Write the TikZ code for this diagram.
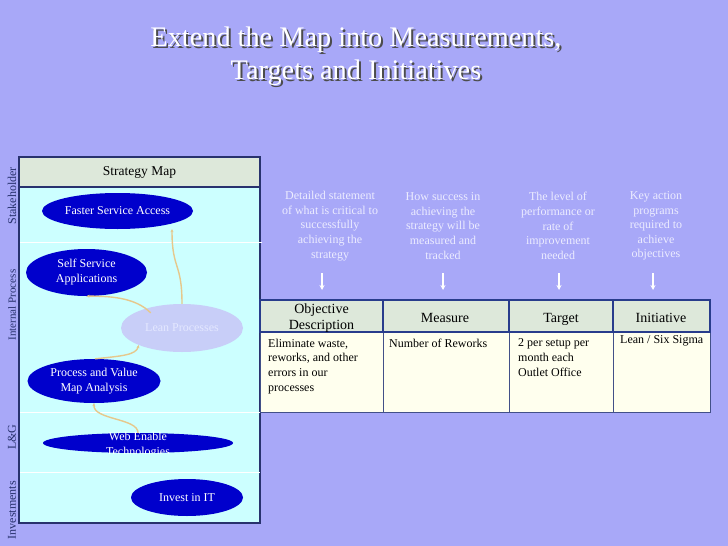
\documentclass[tikz,border=0pt]{standalone}
\usepackage{fontspec}
\setmainfont{Liberation Serif}
\usetikzlibrary{shapes.geometric,arrows.meta}
\definecolor{bgblue}{RGB}{168,168,248}
\definecolor{panelcyan}{RGB}{204,255,255}
\definecolor{headgreen}{RGB}{221,232,218}
\definecolor{ivory}{RGB}{255,255,238}
\definecolor{navy}{RGB}{40,50,110}
\definecolor{tblue}{RGB}{40,60,140}
\definecolor{ellblue}{RGB}{0,0,204}
\definecolor{leanfill}{RGB}{200,206,248}
\definecolor{leantext}{RGB}{228,232,255}
\definecolor{linktan}{RGB}{230,200,140}
\definecolor{desctext}{RGB}{236,236,255}
\newcommand{\shadowline}[1]{\leavevmode\rlap{\hspace{2pt}\raisebox{-2pt}{\textcolor{black!70}{#1}}}\textcolor{white}{#1}}
\tikzset{
  objell/.style={ellipse, fill=ellblue, text=white, inner sep=0pt, align=center,
     font=\fontsize{12}{15}\selectfont},
  link/.style={draw=linktan, line width=1.4pt, -{Stealth[length=3pt,width=3pt]}},
  sidelabel/.style={rotate=90, font=\fontsize{12}{14}\selectfont, text=navy},
  desc/.style={align=center, text=desctext, font=\fontsize{12}{14.6}\selectfont},
  downarr/.style={draw=white, line width=1.3pt, -{Stealth[length=5pt,width=5pt]}},
  headcell/.style={draw=tblue, line width=1.6pt, fill=headgreen},
  bodycell/.style={draw=tblue!70!gray, line width=0.8pt, fill=ivory},
  headtext/.style={align=center, font=\fontsize{14}{16}\selectfont},
  bodytext/.style={align=left, anchor=north west, inner sep=0pt, font=\fontsize{12}{14.8}\selectfont},
}
\begin{document}
\begin{tikzpicture}[x=1pt,y=-1pt]
\useasboundingbox (0,0) rectangle (728,546);
\fill[bgblue] (0,0) rectangle (728,546);
% title
\node (title) at (356,57) [align=center, font=\fontsize{28.3}{33}\selectfont] {\shadowline{Extend the Map into Measurements,}\\\shadowline{Targets and Initiatives}};
% left panel
\filldraw[fill=panelcyan, draw=navy, line width=1.5pt] (19,157) rectangle (260,523);
\filldraw[fill=headgreen, draw=navy, line width=1.5pt] (19,157) rectangle (260,187);
\node (smhead) at (139.5,172) [font=\fontsize{13.5}{16}\selectfont] {Strategy Map};
\draw[white, line width=1pt] (20,242) -- (262,242);
\draw[white, line width=1pt] (20,412) -- (260,412);
\draw[white, line width=1pt] (20,472) -- (260,472);
% side labels
\node[sidelabel] (lstake) at (12,196) {Stakeholder};
\node[sidelabel, font=\fontsize{11}{14}\selectfont] (lint) at (12,305) {Internal Process};
\node[sidelabel] (llg) at (12,437) {L\&G};
\node[sidelabel] (linv) at (12,510) {Investments};
% ellipses
\node[objell, minimum width=151pt, minimum height=36pt] (fsa) at (117.5,211) {Faster Service Access};
\node[objell, minimum width=121pt, minimum height=47pt] (ssa) at (86.5,272.5) {Self Service\\Applications};
\node[ellipse, fill=leanfill, text=leantext, inner sep=0pt, minimum width=122pt, minimum height=48pt,
      font=\fontsize{12}{15}\selectfont] (lean) at (182,328) {Lean Processes};
\node[objell, minimum width=133pt, minimum height=44pt] (pva) at (94,381) {Process and Value\\Map Analysis};
\node[objell, minimum width=190pt, minimum height=20pt] (web) at (138,443) {};
\begin{scope}
\clip (0,0) rectangle (728,453.5);
\node[align=center, text=white, font=\fontsize{12}{14.5}\selectfont] (webtext) at (138,445) {Web Enable\\Technologies};
\end{scope}
\node[objell, minimum width=112pt, minimum height=37pt] (iit) at (187,497.5) {Invest in IT};
% links
\draw[link] (lean.north -| 182,0) .. controls (182,262) and (172,270) .. (fsa.south -| 172,0);
\draw[link] (lean.north west) ++(12,2) .. controls (136,298) and (112,296) .. (ssa.south);
\draw[link] (pva.north) ++(1,0) .. controls (122,356) and (136,355) .. (lean.south west);
\draw[link] (web.north) .. controls (138,418) and (93,420) .. (pva.south);
% descriptions
\node[desc] (d1) at (330,226) {Detailed statement\\of what is critical to\\successfully\\achieving the\\strategy};
\node[desc] (d2) at (443,226) {How success in\\achieving the\\strategy will be\\measured and\\tracked};
\node[desc] (d3) at (558,226) {The level of\\performance or\\rate of\\improvement\\needed};
\node[desc] (d4) at (656,226) {Key action\\programs\\required to\\achieve\\objectives};
\coordinate (a1s) at (322,273); \coordinate (a1e) at (322,290);
\coordinate (a2s) at (443,273); \coordinate (a2e) at (443,290);
\coordinate (a3s) at (559,273); \coordinate (a3e) at (559,290);
\coordinate (a4s) at (653,273); \coordinate (a4e) at (653,290);
\draw[downarr] (a1s) -- (a1e);
\draw[downarr] (a2s) -- (a2e);
\draw[downarr] (a3s) -- (a3e);
\draw[downarr] (a4s) -- (a4e);
% table body
\draw[bodycell] (260,332) rectangle (383,412);
\draw[bodycell] (383,332) rectangle (509,412);
\draw[bodycell] (509,332) rectangle (613,412);
\draw[bodycell] (613,332) rectangle (710,412);
% table header
\draw[headcell] (260,300) rectangle (383,332);
\draw[headcell] (383,300) rectangle (509,332);
\draw[headcell] (509,300) rectangle (613,332);
\draw[headcell] (613,300) rectangle (710,332);
\node[headtext] (h1) at (321.5,318) {Objective\\Description};
\node[headtext, anchor=base] (h2) at (445,322) {Measure};
\node[headtext, anchor=base] (h3) at (561,322) {Target};
\node[headtext, anchor=base] (h4) at (661,322) {Initiative};
\node[bodytext] (b1) at (268,338.5) {Eliminate waste,\\reworks, and other\\errors in our\\processes};
\node[bodytext] (b2) at (389,338.5) {Number of Reworks};
\node[bodytext] (b3) at (518,338.5) {2 per setup per\\month each\\Outlet Office};
\node[bodytext] (b4) at (620,335.5) {Lean / Six Sigma};
\end{tikzpicture}
\end{document}
